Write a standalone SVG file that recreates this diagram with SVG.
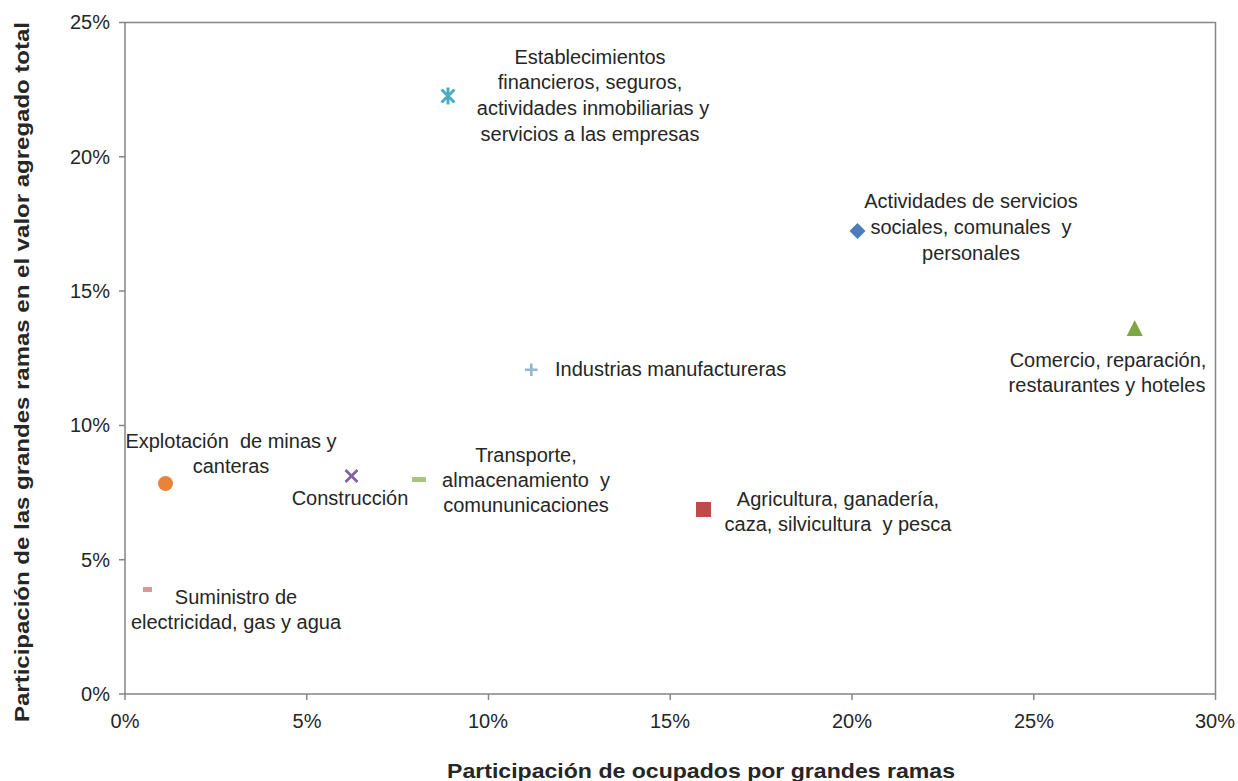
<svg xmlns="http://www.w3.org/2000/svg" width="1238" height="781" viewBox="0 0 1238 781">
<style>
text{font-family:"Liberation Sans",Arial,sans-serif;fill:#262626;}
.lbl{font-size:20px;text-anchor:middle;}
.tick{font-size:20px;}
.ax{stroke:#868686;stroke-width:1.5;fill:none;}
.title{font-size:21px;font-weight:bold;text-anchor:middle;}
</style>
<rect width="1238" height="781" fill="#ffffff"/>
<g id="axes">
<rect class="ax" x="125" y="22.5" width="1090.5" height="671.5"/>
<path class="ax" d="M119 22.5H125M119 156.8H125M119 291.1H125M119 425.4H125M119 559.7H125M119 694H125"/>
<path class="ax" d="M125 694V700M306.75 694V700M488.5 694V700M670.25 694V700M852 694V700M1033.75 694V700M1215.5 694V700"/>
<g class="tick" text-anchor="end">
<text x="110" y="29">25%</text>
<text x="110" y="164">20%</text>
<text x="110" y="298">15%</text>
<text x="110" y="432">10%</text>
<text x="110" y="567">5%</text>
<text x="110" y="701">0%</text>
</g>
<g class="tick" text-anchor="middle">
<text x="125" y="728">0%</text>
<text x="307" y="728">5%</text>
<text x="488" y="728">10%</text>
<text x="670" y="728">15%</text>
<text x="852" y="728">20%</text>
<text x="1034" y="728">25%</text>
<text x="1215" y="728">30%</text>
</g>
<text class="title" x="701" y="778" textLength="508" lengthAdjust="spacingAndGlyphs">Participación de ocupados por grandes ramas</text>
<text class="title" transform="translate(29 372) rotate(-90)" textLength="700" lengthAdjust="spacingAndGlyphs">Participación de las grandes ramas en el valor agregado total</text>
</g>
<g id="connectors"></g>
<g id="financieros">
<path d="M448 87.5V104.5M441.5 89.5L454.5 102.5M454.5 89.5L441.5 102.5" stroke="#4BACC6" stroke-width="3" fill="none"/>
<text class="lbl"><tspan x="590" y="64">Establecimientos</tspan><tspan x="590" y="89">financieros, seguros,</tspan><tspan x="593" y="115">actividades inmobiliarias y</tspan><tspan x="590" y="141">servicios a las empresas</tspan></text>
</g>
<g id="servicios">
<path d="M857.5 223L865.5 231L857.5 239L849.5 231Z" fill="#4A7EBB"/>
<text class="lbl"><tspan x="971" y="208">Actividades de servicios</tspan><tspan x="971" y="234">sociales, comunales&#160; y</tspan><tspan x="971" y="260">personales</tspan></text>
</g>
<g id="comercio">
<path d="M1134.7 320L1142.7 336L1126.7 336Z" fill="#7FA642"/>
<text class="lbl"><tspan x="1108" y="367">Comercio, reparación,</tspan><tspan x="1107" y="392">restaurantes y hoteles</tspan></text>
</g>
<g id="industrias">
<path d="M525 369.7H537.6M531.3 363.4V376" stroke="#95B3D7" stroke-width="2.6" fill="none"/>
<text x="555" y="376" font-size="20">Industrias manufactureras</text>
</g>
<g id="minas">
<circle cx="165.5" cy="483.5" r="7.5" fill="#E8833A"/>
<text class="lbl"><tspan x="231" y="448">Explotación&#160; de minas y</tspan><tspan x="231" y="473">canteras</tspan></text>
</g>
<g id="construccion">
<path d="M345.5 470L357.5 482M357.5 470L345.5 482" stroke="#8064A2" stroke-width="2.8" fill="none"/>
<text class="lbl" x="350" y="505">Construcción</text>
</g>
<g id="transporte">
<rect x="412" y="477" width="14" height="5" fill="#A9C47F"/>
<text class="lbl"><tspan x="526" y="462">Transporte,</tspan><tspan x="526" y="487">almacenamiento&#160; y</tspan><tspan x="526" y="512">comununicaciones</tspan></text>
</g>
<g id="agricultura">
<rect x="696" y="502" width="15" height="15" fill="#BE4B48"/>
<text class="lbl"><tspan x="838" y="506">Agricultura, ganadería,</tspan><tspan x="838" y="531">caza, silvicultura&#160; y pesca</tspan></text>
</g>
<g id="suministro">
<rect x="143" y="587" width="9" height="5" fill="#D99795"/>
<text class="lbl"><tspan x="236" y="604">Suministro de</tspan><tspan x="236" y="629">electricidad, gas y agua</tspan></text>
</g>
</svg>
